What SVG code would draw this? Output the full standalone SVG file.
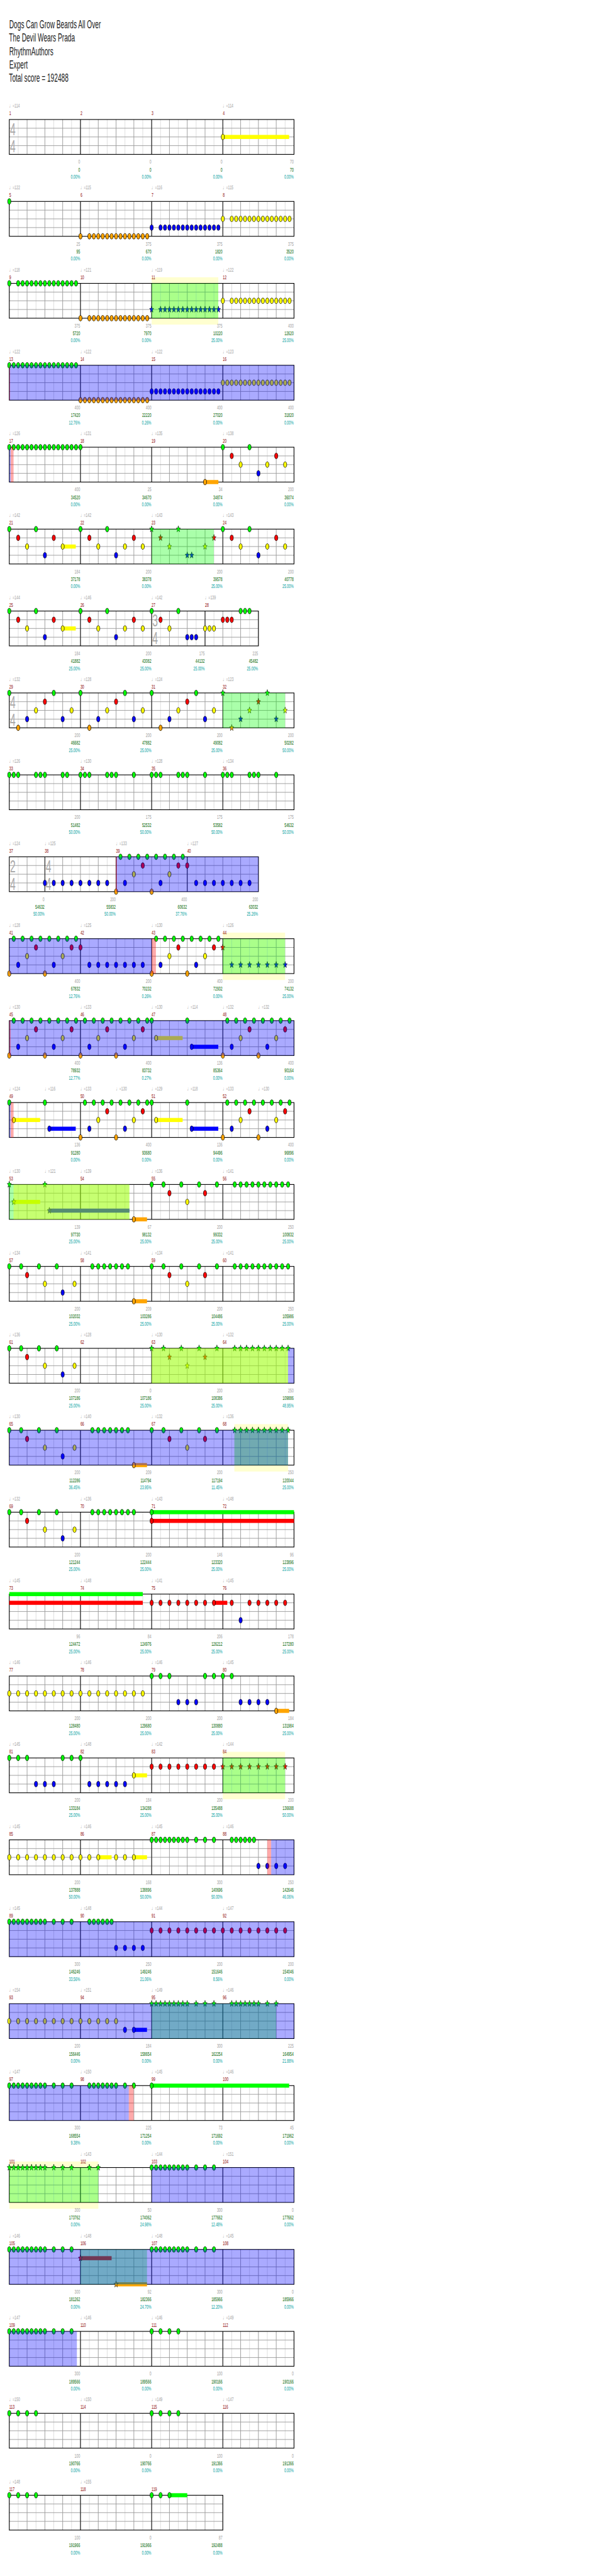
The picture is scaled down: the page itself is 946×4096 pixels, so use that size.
<svg xmlns="http://www.w3.org/2000/svg" width="946" height="4096" viewBox="0 0 946 4096">
<defs>
<style>
.tx{font-family:"Liberation Sans","DejaVu Sans",sans-serif;font-size:5.7px}
.ti{font-size:11px;fill:#1a1a1a}
.tp{fill:#a0a0a0;transform:translate(0px,-11.66px)}
.mn{fill:#8b0000;transform:translate(0px,-4.23px)}
.s1,.s2,.s3{text-anchor:end}
.s1{fill:#a0a0a0;transform:translate(0px,43.43px)}
.s2{fill:#006400;transform:translate(0px,51.03px)}
.s3{fill:#00a0a0;transform:translate(0px,58.11px)}
.ts{font-family:"Liberation Sans",sans-serif;font-size:17px;fill:#aaa}
.gl1{stroke:#dcdcdc;fill:none}
.gl2{stroke:#9a9a9a;fill:none}
.ml{stroke:#000;fill:none}
.bd{fill:none;stroke:#000;stroke-width:1.2}
.yb{fill:#ffffd0}
.og{fill:#0f0;fill-opacity:.333}
.oy{fill:#ff0;fill-opacity:.333}
.ob{fill:#00f;fill-opacity:.333}
.op{fill:#f00;fill-opacity:.333}
.uG{fill:#0f0}.uR{fill:#f00}.uY{fill:#ff0}.uB{fill:#00f}.uO{fill:#ffa500}
.G,.R,.Y,.B,.O,.SG,.SR,.SY,.SB,.SO{fill:none;stroke:none}
.G{marker-start:url(#mG);marker-mid:url(#mG);marker-end:url(#mG)}
.R{marker-start:url(#mR);marker-mid:url(#mR);marker-end:url(#mR)}
.Y{marker-start:url(#mY);marker-mid:url(#mY);marker-end:url(#mY)}
.B{marker-start:url(#mB);marker-mid:url(#mB);marker-end:url(#mB)}
.O{marker-start:url(#mO);marker-mid:url(#mO);marker-end:url(#mO)}
.SG{marker-start:url(#nG);marker-mid:url(#nG);marker-end:url(#nG)}
.SR{marker-start:url(#nR);marker-mid:url(#nR);marker-end:url(#nR)}
.SY{marker-start:url(#nY);marker-mid:url(#nY);marker-end:url(#nY)}
.SB{marker-start:url(#nB);marker-mid:url(#nB);marker-end:url(#nB)}
</style>
<ellipse id="el" rx="2.85" ry="4.8" stroke="#000" stroke-width=".8"/>
<path id="st" d="M0-5.8 1-2 3.8-1.8 1.62.76 2.35 4.7 0 2.47-2.35 4.7-1.62.76-3.8-1.8-1-2Z" stroke="#000" stroke-width=".6"/>
<use id="eG" href="#el" fill="#0f0"/><use id="eR" href="#el" fill="#f00"/><use id="eY" href="#el" fill="#ff0"/><use id="eB" href="#el" fill="#00f"/><use id="eO" href="#el" fill="#ffa500"/>
<use id="sG" href="#st" fill="#0f0"/><use id="sR" href="#st" fill="#f00"/><use id="sY" href="#st" fill="#ff0"/><use id="sB" href="#st" fill="#00f"/><use id="sO" href="#st" fill="#ffa500"/>
<marker id="mG" overflow="visible" markerUnits="userSpaceOnUse"><use href="#eG"/></marker>
<marker id="mR" overflow="visible" markerUnits="userSpaceOnUse"><use href="#eR"/></marker>
<marker id="mY" overflow="visible" markerUnits="userSpaceOnUse"><use href="#eY"/></marker>
<marker id="mB" overflow="visible" markerUnits="userSpaceOnUse"><use href="#eB"/></marker>
<marker id="mO" overflow="visible" markerUnits="userSpaceOnUse"><use href="#eO"/></marker>
<marker id="nG" overflow="visible" markerUnits="userSpaceOnUse"><use href="#sG"/></marker>
<marker id="nR" overflow="visible" markerUnits="userSpaceOnUse"><use href="#sR"/></marker>
<marker id="nY" overflow="visible" markerUnits="userSpaceOnUse"><use href="#sY"/></marker>
<marker id="nB" overflow="visible" markerUnits="userSpaceOnUse"><use href="#sB"/></marker>
<g id="grid">
<path class="gl1" d="M15.31 0v60M45.94 0v60M76.56 0v60M107.19 0v60M137.81 0v60M168.44 0v60M199.06 0v60M229.69 0v60M260.31 0v60M290.94 0v60M321.56 0v60M352.19 0v60M382.81 0v60M413.44 0v60M444.06 0v60M474.69 0v60"/>
<path class="gl2" d="M30.63 0v60M61.25 0v60M91.88 0v60M122.5 0v60M153.13 0v60M183.75 0v60M214.38 0v60M245 0v60M275.63 0v60M306.25 0v60M336.88 0v60M367.5 0v60M398.13 0v60M428.75 0v60M459.38 0v60M0 15h490M0 30h490M0 45h490"/>
</g>
<g id="stf"><use href="#grid"/><path class="ml" d="M122.5 0v60M245 0v60M367.5 0v60"/><rect class="bd" width="490" height="60"/></g>
<clipPath id="c7"><rect width="428.75" height="60"/></clipPath>
<clipPath id="c30"><rect width="367.5" height="60"/></clipPath>
</defs>
<rect width="946" height="4096" fill="#fff"/>
<g transform="scale(.923828)">
<g id="title" class="tx ti" transform="scale(1,1.75)"><text x="16" y="28">Dogs Can Grow Beards All Over</text><text x="15.5" y="41.14">The Devil Wears Prada</text><text x="16" y="54.29">RhythmAuthors</text><text x="16" y="67.43">Expert</text><text x="15.5" y="80.57">Total score = 192488</text></g>

<g id="row1">
<g transform="translate(16,205.7)"><use href="#stf"/>
<g class="ts" transform="scale(1,1.75)"><text x="1.3" y="15.2">4</text><text x="1.3" y="32.35">4</text></g>
<g transform="scale(.95703,1)"><rect class="uY" x="384" y="26.5" width="119.2" height="7"/><use href="#eY" x="384" y="30"/></g>
</g>
<g class="tx" transform="translate(0,205.7) scale(1,1.75)">
<g class="tp"><text x="16">♩=114</text><text x="383.5">♩=114</text></g>
<g class="mn"><text x="16">1</text><text x="138.5">2</text><text x="261">3</text><text x="383.5">4</text></g>
<g class="s1"><text x="137.9">0</text><text x="260.4">0</text><text x="382.9">0</text><text x="505.4">70</text></g>
<g class="s2"><text x="137.9">0</text><text x="260.4">0</text><text x="382.9">0</text><text x="505.4">70</text></g>
<g class="s3"><text x="137.9">0.00%</text><text x="260.4">0.00%</text><text x="382.9">0.00%</text><text x="505.4">0.00%</text></g>
</g></g>

<g id="row2">
<g transform="translate(16,346.7)"><use href="#stf"/>
<g transform="scale(.95703,1)"><use href="#eG"/>
<path class="O" d="M128 60h16h8h8h8h8 h8h8h8h8h8 h8h8h8h8"/>
<path class="B" d="M256 45h16h8h8h8h8 h8h8h8h8h8 h8h8h8h8"/>
<path class="Y" d="M384 30h16h8h8h8h8 h8h8h8h8h8 h8h8h8h8"/>
</g></g>
<g class="tx" transform="translate(0,346.7) scale(1,1.75)">
<g class="tp"><text x="16">♩=122</text><text x="138.5">♩=115</text><text x="261">♩=116</text><text x="383.5">♩=115</text></g>
<g class="mn"><text x="16">5</text><text x="138.5">6</text><text x="261">7</text><text x="383.5">8</text></g>
<g class="s1"><text x="137.9">25</text><text x="260.4">375</text><text x="382.9">375</text><text x="505.4">375</text></g>
<g class="s2"><text x="137.9">95</text><text x="260.4">670</text><text x="382.9">1820</text><text x="505.4">3520</text></g>
<g class="s3"><text x="137.9">0.00%</text><text x="260.4">0.00%</text><text x="382.9">0.00%</text><text x="505.4">0.00%</text></g>
</g></g>

<g id="row3">
<g transform="translate(16,487.7)"><rect class="yb" x="245" y="-10.5" width="114.67" height="81.5"/><use href="#stf"/>
<g transform="scale(.95703,1)">
<path class="G" d="M0 0h16h8h8h8h8 h8h8h8h8h8 h8h8h8h8"/>
<path class="O" d="M128 60h16h8h8h8h8 h8h8h8h8h8 h8h8h8h8"/>
<path class="SB" d="M256 45h16h8h8h8h8 h8h8h8h8h8 h8h8h8h8"/>
<path class="Y" d="M384 30h16h8h8h8h8 h8h8h8h8h8 h8h8h8h8"/>
</g><rect class="og" x="245" width="114.67" height="60"/></g>
<g class="tx" transform="translate(0,487.7) scale(1,1.75)">
<g class="tp"><text x="16">♩=118</text><text x="138.5">♩=121</text><text x="261">♩=119</text><text x="383.5">♩=122</text></g>
<g class="mn"><text x="16">9</text><text x="138.5">10</text><text x="261">11</text><text x="383.5">12</text></g>
<g class="s1"><text x="137.9">375</text><text x="260.4">375</text><text x="382.9">375</text><text x="505.4">400</text></g>
<g class="s2"><text x="137.9">5720</text><text x="260.4">7970</text><text x="382.9">10220</text><text x="505.4">12620</text></g>
<g class="s3"><text x="137.9">0.00%</text><text x="260.4">0.00%</text><text x="382.9">25.00%</text><text x="505.4">25.00%</text></g>
</g></g>

<g id="row4">
<g transform="translate(16,628.7)"><use href="#stf"/>
<g transform="scale(.95703,1)">
<path class="G" d="M0 0h8h8h8h8h8 h8h8h8h8h8 h8h8h8h8h8"/>
<path class="O" d="M128 60h8h8h8h8h8 h8h8h8h8h8 h8h8h8h8h8"/>
<path class="B" d="M256 45h8h8h8h8h8 h8h8h8h8h8 h8h8h8h8h8"/>
<path class="Y" d="M384 30h8h8h8h8h8 h8h8h8h8h8 h8h8h8h8h8"/>
</g><rect class="ob" width="490" height="60"/><rect class="op" width="1.33" height="60"/></g>
<g class="tx" transform="translate(0,628.7) scale(1,1.75)">
<g class="tp"><text x="16">♩=122</text><text x="138.5">♩=122</text><text x="261">♩=122</text><text x="383.5">♩=123</text></g>
<g class="mn"><text x="16">13</text><text x="138.5">14</text><text x="261">15</text><text x="383.5">16</text></g>
<g class="s1"><text x="137.9">400</text><text x="260.4">400</text><text x="382.9">400</text><text x="505.4">400</text></g>
<g class="s2"><text x="137.9">17420</text><text x="260.4">22220</text><text x="382.9">27020</text><text x="505.4">31820</text></g>
<g class="s3"><text x="137.9">12.76%</text><text x="260.4">0.26%</text><text x="382.9">0.00%</text><text x="505.4">0.00%</text></g>
</g></g>

<g id="row5">
<g transform="translate(16,769.7)"><use href="#stf"/>
<g transform="scale(.95703,1)"><rect class="uO" x="352" y="56.5" width="24" height="7"/>
<path class="G" d="M0 0h8h8h8h8h8 h8h8h8h8h8 h8h8h8h8h8 h8h256h48"/>
<path class="R" d="M400 15h80"/><path class="Y" d="M416 30h48h32"/><use href="#eB" x="448" y="45"/><use href="#eO" x="352" y="60"/>
</g><rect class="ob" width="2.33" height="60"/><rect class="op" x="2.33" width="5" height="60"/></g>
<g class="tx" transform="translate(0,769.7) scale(1,1.75)">
<g class="tp"><text x="16">♩=126</text><text x="138.5">♩=131</text><text x="261">♩=135</text><text x="383.5">♩=138</text></g>
<g class="mn"><text x="16">17</text><text x="138.5">18</text><text x="261">19</text><text x="383.5">20</text></g>
<g class="s1"><text x="137.9">400</text><text x="260.4">25</text><text x="382.9">34</text><text x="505.4">200</text></g>
<g class="s2"><text x="137.9">34520</text><text x="260.4">34670</text><text x="382.9">34874</text><text x="505.4">36074</text></g>
<g class="s3"><text x="137.9">0.00%</text><text x="260.4">0.00%</text><text x="382.9">0.00%</text><text x="505.4">0.00%</text></g>
</g></g>

<g id="row6">
<g transform="translate(16,910.7)"><use href="#stf"/>
<g transform="scale(.95703,1)"><rect class="uY" x="96" y="26.5" width="23.5" height="7"/>
<path class="G" d="M0 0h48h80h48h208h48"/><path class="R" d="M16 15h64h64h80h176h80"/><path class="Y" d="M32 30h64h64h48h32h176h48h32"/><path class="B" d="M64 45h128h256"/>
<path class="SG" d="M256 0h48"/><path class="SR" d="M272 15h96"/><path class="SY" d="M288 30h64"/><path class="SB" d="M320 45h8"/>
</g><rect class="og" x="245" width="107" height="60"/></g>
<g class="tx" transform="translate(0,910.7) scale(1,1.75)">
<g class="tp"><text x="16">♩=142</text><text x="138.5">♩=142</text><text x="261">♩=143</text><text x="383.5">♩=143</text></g>
<g class="mn"><text x="16">21</text><text x="138.5">22</text><text x="261">23</text><text x="383.5">24</text></g>
<g class="s1"><text x="137.9">184</text><text x="260.4">200</text><text x="382.9">200</text><text x="505.4">200</text></g>
<g class="s2"><text x="137.9">37178</text><text x="260.4">38378</text><text x="382.9">39578</text><text x="505.4">40778</text></g>
<g class="s3"><text x="137.9">0.00%</text><text x="260.4">0.00%</text><text x="382.9">25.00%</text><text x="505.4">25.00%</text></g>
</g></g>

<g id="row7">
<g transform="translate(16,1051.7)"><use href="#grid" clip-path="url(#c7)"/><path class="ml" d="M122.5 0v60M245 0v60M336.88 0v60"/><rect class="bd" width="428.75" height="60"/>
<g class="ts" transform="scale(1,1.75)"><text x="246.3" y="15.2">3</text><text x="246.3" y="32.35">4</text></g>
<g transform="scale(.95703,1)"><rect class="uY" x="96" y="26.5" width="23.5" height="7"/>
<path class="G" d="M0 0h48h80h48h80h48h112h8h8"/><path class="R" d="M16 15h64h64h80h48h112h8h8"/><path class="Y" d="M32 30h64h64h48h32h48h64h8h8"/><path class="B" d="M64 45h128h128h8h8"/>
</g></g>
<g class="tx" transform="translate(0,1051.7) scale(1,1.75)">
<g class="tp"><text x="16">♩=144</text><text x="138.5">♩=146</text><text x="261">♩=142</text><text x="353">♩=139</text></g>
<g class="mn"><text x="16">25</text><text x="138.5">26</text><text x="261">27</text><text x="353">28</text></g>
<g class="s1"><text x="137.9">184</text><text x="260.4">200</text><text x="352.3">175</text><text x="444.1">225</text></g>
<g class="s2"><text x="137.9">41882</text><text x="260.4">43082</text><text x="352.3">44132</text><text x="444.1">45482</text></g>
<g class="s3"><text x="137.9">25.00%</text><text x="260.4">25.00%</text><text x="352.3">25.00%</text><text x="444.1">25.00%</text></g>
</g></g>

<g id="row8">
<g transform="translate(16,1192.7)"><use href="#stf"/>
<g class="ts" transform="scale(1,1.75)"><text x="1.3" y="15.2">4</text><text x="1.3" y="32.35">4</text></g>
<g transform="scale(.95703,1)">
<path class="G" d="M0 0h80h48h80h48h80"/><path class="R" d="M64 15h128h128"/><path class="Y" d="M48 30h64h64h64h64h64"/><path class="B" d="M32 45h64h64h64h64h64"/><path class="O" d="M16 60h128h128"/>
<path class="SG" d="M384 0h80"/><use href="#sR" x="448" y="15"/><path class="SY" d="M432 30h64"/><path class="SB" d="M416 45h64"/><use href="#sO" x="400" y="60"/>
</g><rect class="og" x="367.33" width="107.33" height="60"/></g>
<g class="tx" transform="translate(0,1192.7) scale(1,1.75)">
<g class="tp"><text x="16">♩=132</text><text x="138.5">♩=128</text><text x="261">♩=124</text><text x="383.5">♩=123</text></g>
<g class="mn"><text x="16">29</text><text x="138.5">30</text><text x="261">31</text><text x="383.5">32</text></g>
<g class="s1"><text x="137.9">200</text><text x="260.4">200</text><text x="382.9">200</text><text x="505.4">200</text></g>
<g class="s2"><text x="137.9">46682</text><text x="260.4">47882</text><text x="382.9">49082</text><text x="505.4">50282</text></g>
<g class="s3"><text x="137.9">25.00%</text><text x="260.4">25.00%</text><text x="382.9">25.00%</text><text x="505.4">50.00%</text></g>
</g></g>

<g id="row9">
<g transform="translate(16,1333.7)"><use href="#stf"/>
<g transform="scale(.95703,1)">
<path class="G" d="M0 0h8h8h32h8h8h32h8h24h8h8h32h8h8h32h32h8h8h32h8h8h32h32h8h8h32h8h8h32"/>
</g></g>
<g class="tx" transform="translate(0,1333.7) scale(1,1.75)">
<g class="tp"><text x="16">♩=126</text><text x="138.5">♩=130</text><text x="261">♩=128</text><text x="383.5">♩=134</text></g>
<g class="mn"><text x="16">33</text><text x="138.5">34</text><text x="261">35</text><text x="383.5">36</text></g>
<g class="s1"><text x="137.9">200</text><text x="260.4">175</text><text x="382.9">175</text><text x="505.4">175</text></g>
<g class="s2"><text x="137.9">51482</text><text x="260.4">52532</text><text x="382.9">53582</text><text x="505.4">54632</text></g>
<g class="s3"><text x="137.9">50.00%</text><text x="260.4">50.00%</text><text x="382.9">50.00%</text><text x="505.4">50.00%</text></g>
</g></g>

<g id="row10">
<g transform="translate(16,1474.7)"><use href="#grid" clip-path="url(#c7)"/><path class="ml" d="M61.25 0v60M183.75 0v60M306.25 0v60"/><rect class="bd" width="428.75" height="60"/>
<g class="ts" transform="scale(1,1.75)"><text x="1.3" y="15.2">2</text><text x="1.3" y="32.35">4</text><text x="62.7" y="15.2">4</text><text x="62.7" y="32.35">4</text></g>
<g transform="scale(.95703,1)">
<path class="G" d="M200 0h16h16h16h16h16h16h16"/><path class="R" d="M240 15h64h16"/><path class="Y" d="M224 30h64"/>
<path class="B" d="M64 45h16h16h16h16h16h16h16h32h64h64h16h16h16h16h16h16"/><path class="O" d="M192 60h64"/>
</g><rect class="ob" x="184" width="244.75" height="60"/><rect class="op" x="183.3" width="2" height="60"/></g>
<g class="tx" transform="translate(0,1474.7) scale(1,1.75)">
<g class="tp"><text x="16">♩=124</text><text x="77.25">♩=125</text><text x="199.75">♩=133</text><text x="322.25">♩=127</text></g>
<g class="mn"><text x="16">37</text><text x="77.25">38</text><text x="199.75">39</text><text x="322.25">40</text></g>
<g class="s1"><text x="76.6">0</text><text x="199.1">200</text><text x="321.6">400</text><text x="444.1">200</text></g>
<g class="s2"><text x="76.6">54632</text><text x="199.1">55832</text><text x="321.6">60632</text><text x="444.1">63032</text></g>
<g class="s3"><text x="76.6">50.00%</text><text x="199.1">50.00%</text><text x="321.6">37.76%</text><text x="444.1">25.26%</text></g>
</g></g>

<g id="row11">
<g transform="translate(16,1615.7)"><rect class="yb" x="367.33" y="-10.5" width="107.33" height="81.5"/><use href="#stf"/>
<g transform="scale(.95703,1)">
<path class="G" d="M8 0h16h16h16h16h16h16h16h144h16h16h16h16h16h16h16"/><path class="R" d="M48 15h64h16h176h64"/><use href="#sR" x="384" y="15"/>
<path class="Y" d="M32 30h64h192h64"/><path class="B" d="M16 45h64h64h16h16h16h16h16h16h32h64"/><path class="SB" d="M400 45h16h16h16h16h16h16"/><path class="O" d="M0 60h64h192h64"/>
</g><rect class="og" x="367.33" width="107.33" height="60"/><rect class="ob" width="245" height="60"/><rect class="op" x="245" width="7.33" height="60"/></g>
<g class="tx" transform="translate(0,1615.7) scale(1,1.75)">
<g class="tp"><text x="16">♩=128</text><text x="138.5">♩=125</text><text x="261">♩=130</text><text x="383.5">♩=126</text></g>
<g class="mn"><text x="16">41</text><text x="138.5">42</text><text x="261">43</text><text x="383.5">44</text></g>
<g class="s1"><text x="137.9">400</text><text x="260.4">200</text><text x="382.9">400</text><text x="505.4">200</text></g>
<g class="s2"><text x="137.9">67832</text><text x="260.4">70232</text><text x="382.9">72932</text><text x="505.4">74132</text></g>
<g class="s3"><text x="137.9">12.76%</text><text x="260.4">0.26%</text><text x="382.9">0.00%</text><text x="505.4">25.00%</text></g>
</g></g>

<g id="row12">
<g transform="translate(16,1756.7)"><use href="#stf"/>
<g transform="scale(.95703,1)"><rect class="uY" x="264" y="26.5" width="47.7" height="7"/><rect class="uB" x="328" y="41.5" width="47.8" height="7"/>
<path class="G" d="M8 0h16h16h16h16h16 h16h16h16h16h16 h16h16h16h16h16 h8h64h72h16h16h16h16h16h16h16"/><path class="R" d="M48 15h64h64h64h192h64"/>
<path class="Y" d="M32 30h64h64h64h40h152h64"/><path class="B" d="M16 45h64h64h64h120h72h64"/><path class="O" d="M0 60h64h64h64h192h64"/>
</g><rect class="ob" width="490" height="60"/><rect class="op" width="2.33" height="60"/></g>
<g class="tx" transform="translate(0,1756.7) scale(1,1.75)">
<g class="tp"><text x="16">♩=130</text><text x="138.5">♩=133</text><text x="261">♩=130</text><text x="322.25">♩=114</text><text x="383.5">♩=132</text><text x="444.75">♩=132</text></g>
<g class="mn"><text x="16">45</text><text x="138.5">46</text><text x="261">47</text><text x="383.5">48</text></g>
<g class="s1"><text x="137.9">400</text><text x="260.4">400</text><text x="382.9">136</text><text x="505.4">400</text></g>
<g class="s2"><text x="137.9">78932</text><text x="260.4">83732</text><text x="382.9">85364</text><text x="505.4">90164</text></g>
<g class="s3"><text x="137.9">12.77%</text><text x="260.4">0.27%</text><text x="382.9">0.00%</text><text x="505.4">0.00%</text></g>
</g></g>

<g id="row13">
<g transform="translate(16,1897.7)"><use href="#stf"/>
<g transform="scale(.95703,1)"><rect class="uY" x="8" y="26.5" width="47.4" height="7"/><rect class="uY" x="264" y="26.5" width="47.7" height="7"/><rect class="uB" x="72" y="41.5" width="47.5" height="7"/><rect class="uB" x="328" y="41.5" width="47.8" height="7"/>
<path class="G" d="M0 0h64h72h16h16h16h16h16h16h16h8h64h72h16h16h16h16h16h16h16"/><path class="R" d="M176 15h64h192h64"/>
<path class="Y" d="M8 30h152h64h40h152h64"/><path class="B" d="M72 45h72h64h120h72h64"/><path class="O" d="M128 60h64h192h64"/>
</g><rect class="ob" width="2.33" height="60"/><rect class="op" x="2.33" width="5" height="60"/></g>
<g class="tx" transform="translate(0,1897.7) scale(1,1.75)">
<g class="tp"><text x="16">♩=124</text><text x="77.25">♩=116</text><text x="138.5">♩=133</text><text x="199.75">♩=130</text><text x="261">♩=129</text><text x="322.25">♩=118</text><text x="383.5">♩=133</text><text x="444.75">♩=130</text></g>
<g class="mn"><text x="16">49</text><text x="138.5">50</text><text x="261">51</text><text x="383.5">52</text></g>
<g class="s1"><text x="137.9">136</text><text x="260.4">400</text><text x="382.9">136</text><text x="505.4">400</text></g>
<g class="s2"><text x="137.9">91280</text><text x="260.4">93680</text><text x="382.9">94496</text><text x="505.4">96896</text></g>
<g class="s3"><text x="137.9">0.00%</text><text x="260.4">0.00%</text><text x="382.9">0.00%</text><text x="505.4">0.00%</text></g>
</g></g>

<g id="row14">
<g transform="translate(16,2038.7)"><use href="#stf"/>
<g transform="scale(.95703,1)"><rect class="uY" x="8" y="26.5" width="47.4" height="7"/><rect class="uB" x="72" y="41.5" width="144" height="7"/><rect class="uO" x="224" y="56.5" width="23.6" height="7"/>
<path class="SG" d="M0 0h64"/><use href="#sY" x="8" y="30"/><use href="#sB" x="72" y="45"/><use href="#eO" x="224" y="60"/>
<path class="G" d="M256 0h21.33h32h32h32h32h10.67h10.67h10.67h10.67h10.67h10.67h10.67h10.67h10.67"/><path class="R" d="M288 15h64"/><use href="#eY" x="320" y="30"/>
</g><rect class="og" width="206.67" height="60"/><rect class="oy" x="7.33" width="199.33" height="60"/></g>
<g class="tx" transform="translate(0,2038.7) scale(1,1.75)">
<g class="tp"><text x="16">♩=130</text><text x="77.25">♩=121</text><text x="138.5">♩=139</text><text x="261">♩=136</text><text x="383.5">♩=141</text></g>
<g class="mn"><text x="16">53</text><text x="138.5">54</text><text x="261">55</text><text x="383.5">56</text></g>
<g class="s1"><text x="137.9">139</text><text x="260.4">67</text><text x="382.9">200</text><text x="505.4">250</text></g>
<g class="s2"><text x="137.9">97730</text><text x="260.4">98132</text><text x="382.9">99332</text><text x="505.4">100832</text></g>
<g class="s3"><text x="137.9">25.00%</text><text x="260.4">25.00%</text><text x="382.9">25.00%</text><text x="505.4">25.00%</text></g>
</g></g>

<g id="row15">
<g transform="translate(16,2179.7)"><use href="#stf"/>
<g transform="scale(.95703,1)"><rect class="uO" x="224" y="56.5" width="23.6" height="7"/>
<path class="G" d="M0 0h21.33h32h32h64h10.67h10.67h10.67h10.67h10.67h10.67h42.67h21.33h32h32h32h32h10.67h10.67h10.67h10.67h10.67h10.67h10.67h10.67h10.67"/>
<path class="R" d="M32 15h256h64"/><path class="Y" d="M64 30h53.33h202.67"/><use href="#eB" x="96" y="45"/><use href="#eO" x="224" y="60"/>
</g></g>
<g class="tx" transform="translate(0,2179.7) scale(1,1.75)">
<g class="tp"><text x="16">♩=134</text><text x="138.5">♩=141</text><text x="261">♩=134</text><text x="383.5">♩=141</text></g>
<g class="mn"><text x="16">57</text><text x="138.5">58</text><text x="261">59</text><text x="383.5">60</text></g>
<g class="s1"><text x="137.9">200</text><text x="260.4">209</text><text x="382.9">200</text><text x="505.4">250</text></g>
<g class="s2"><text x="137.9">102032</text><text x="260.4">103286</text><text x="382.9">104486</text><text x="505.4">105986</text></g>
<g class="s3"><text x="137.9">25.00%</text><text x="260.4">25.00%</text><text x="382.9">25.00%</text><text x="505.4">25.00%</text></g>
</g></g>

<g id="row16">
<g transform="translate(16,2320.7)"><use href="#stf"/>
<g transform="scale(.95703,1)">
<path class="G" d="M0 0h21.33h32h32"/><use href="#eR" x="32" y="15"/><path class="Y" d="M64 30h53.33"/><use href="#eB" x="96" y="45"/>
<path class="SG" d="M256 0h21.33h32h32h32h32h10.67h10.67h10.67h10.67h10.67h10.67h10.67h10.67h10.67"/><path class="SR" d="M288 15h64"/><use href="#sY" x="320" y="30"/>
</g><rect class="og" x="245" width="234.67" height="60"/><rect class="oy" x="245" width="234.67" height="60"/><rect class="ob" x="479.67" width="10.33" height="60"/></g>
<g class="tx" transform="translate(0,2320.7) scale(1,1.75)">
<g class="tp"><text x="16">♩=136</text><text x="138.5">♩=128</text><text x="261">♩=130</text><text x="383.5">♩=132</text></g>
<g class="mn"><text x="16">61</text><text x="138.5">62</text><text x="261">63</text><text x="383.5">64</text></g>
<g class="s1"><text x="137.9">200</text><text x="260.4">0</text><text x="382.9">200</text><text x="505.4">250</text></g>
<g class="s2"><text x="137.9">107186</text><text x="260.4">107186</text><text x="382.9">108386</text><text x="505.4">109886</text></g>
<g class="s3"><text x="137.9">25.00%</text><text x="260.4">25.00%</text><text x="382.9">25.00%</text><text x="505.4">48.95%</text></g>
</g></g>

<g id="row17">
<g transform="translate(16,2461.7)"><rect class="yb" x="387.33" y="-10.5" width="92.33" height="81.5"/><use href="#stf"/>
<g transform="scale(.95703,1)"><rect class="uO" x="224" y="56.5" width="23.6" height="7"/>
<path class="G" d="M0 0h21.33h32h32h64h10.67h10.67h10.67h10.67h10.67h10.67h42.67h21.33h32h32h32"/>
<path class="R" d="M32 15h256h64"/><path class="Y" d="M64 30h53.33h202.67"/><use href="#eB" x="96" y="45"/><use href="#eO" x="224" y="60"/>
<path class="SG" d="M405.33 0h10.67h10.67h10.67h10.67h10.67h10.67h10.67h10.67h10.67"/>
</g><rect class="og" x="387.33" width="92.33" height="60"/><rect class="ob" width="479.67" height="60"/></g>
<g class="tx" transform="translate(0,2461.7) scale(1,1.75)">
<g class="tp"><text x="16">♩=130</text><text x="138.5">♩=140</text><text x="261">♩=132</text><text x="383.5">♩=136</text></g>
<g class="mn"><text x="16">65</text><text x="138.5">66</text><text x="261">67</text><text x="383.5">68</text></g>
<g class="s1"><text x="137.9">200</text><text x="260.4">209</text><text x="382.9">200</text><text x="505.4">250</text></g>
<g class="s2"><text x="137.9">112286</text><text x="260.4">114794</text><text x="382.9">117194</text><text x="505.4">120044</text></g>
<g class="s3"><text x="137.9">36.45%</text><text x="260.4">23.95%</text><text x="382.9">11.45%</text><text x="505.4">25.00%</text></g>
</g></g>

<g id="row18">
<g transform="translate(16,2602.7)"><use href="#stf"/>
<g transform="scale(.95703,1)"><rect class="uG" x="256" y="-3.5" width="256" height="7"/><rect class="uR" x="256" y="11.5" width="256" height="7"/>
<path class="G" d="M0 0h21.33h32h32h64h10.67h10.67h10.67h10.67h10.67h10.67h10.67h32"/>
<path class="R" d="M32 15h224"/><path class="Y" d="M64 30h53.33"/><use href="#eB" x="96" y="45"/>
</g></g>
<g class="tx" transform="translate(0,2602.7) scale(1,1.75)">
<g class="tp"><text x="16">♩=132</text><text x="138.5">♩=136</text><text x="261">♩=143</text><text x="383.5">♩=148</text></g>
<g class="mn"><text x="16">69</text><text x="138.5">70</text><text x="261">71</text><text x="383.5">72</text></g>
<g class="s1"><text x="137.9">200</text><text x="260.4">200</text><text x="382.9">146</text><text x="505.4">96</text></g>
<g class="s2"><text x="137.9">121244</text><text x="260.4">122444</text><text x="382.9">123320</text><text x="505.4">123896</text></g>
<g class="s3"><text x="137.9">25.00%</text><text x="260.4">25.00%</text><text x="382.9">25.00%</text><text x="505.4">25.00%</text></g>
</g></g>

<g id="row19">
<g transform="translate(16,2743.7)"><use href="#stf"/>
<g transform="scale(.95703,1)"><rect class="uG" y="-3.5" width="240" height="7"/><rect class="uR" y="11.5" width="240" height="7"/><rect class="uR" x="368" y="11.5" width="24" height="7"/>
<path class="R" d="M256 15h16h16h16h16h16h16h16h32h32h16h16h16h16"/><use href="#eB" x="416" y="45"/>
</g></g>
<g class="tx" transform="translate(0,2743.7) scale(1,1.75)">
<g class="tp"><text x="16">♩=145</text><text x="138.5">♩=148</text><text x="261">♩=141</text><text x="383.5">♩=145</text></g>
<g class="mn"><text x="16">73</text><text x="138.5">74</text><text x="261">75</text><text x="383.5">76</text></g>
<g class="s1"><text x="137.9">96</text><text x="260.4">84</text><text x="382.9">206</text><text x="505.4">178</text></g>
<g class="s2"><text x="137.9">124472</text><text x="260.4">124976</text><text x="382.9">126212</text><text x="505.4">127280</text></g>
<g class="s3"><text x="137.9">25.00%</text><text x="260.4">25.00%</text><text x="382.9">25.00%</text><text x="505.4">25.00%</text></g>
</g></g>

<g id="row20">
<g transform="translate(16,2884.7)"><use href="#stf"/>
<g transform="scale(.95703,1)"><rect class="uO" x="480" y="56.5" width="23.2" height="7"/>
<path class="Y" d="M0 30h16h16h16h16h16 h16h16h16h16h16 h16h16h16h16h16"/><path class="G" d="M256 0h16h16h64h16h16h16"/><path class="B" d="M304 45h16h16h80h16h16h16"/><use href="#eO" x="480" y="60"/>
</g></g>
<g class="tx" transform="translate(0,2884.7) scale(1,1.75)">
<g class="tp"><text x="16">♩=146</text><text x="138.5">♩=146</text><text x="261">♩=146</text><text x="383.5">♩=145</text></g>
<g class="mn"><text x="16">77</text><text x="138.5">78</text><text x="261">79</text><text x="383.5">80</text></g>
<g class="s1"><text x="137.9">200</text><text x="260.4">200</text><text x="382.9">200</text><text x="505.4">184</text></g>
<g class="s2"><text x="137.9">128480</text><text x="260.4">129680</text><text x="382.9">130880</text><text x="505.4">131984</text></g>
<g class="s3"><text x="137.9">25.00%</text><text x="260.4">25.00%</text><text x="382.9">25.00%</text><text x="505.4">25.00%</text></g>
</g></g>

<g id="row21">
<g transform="translate(16,3025.7)"><rect class="yb" x="367.33" y="-10.5" width="107.33" height="81.5"/><use href="#stf"/>
<g transform="scale(.95703,1)"><rect class="uY" x="224" y="26.5" width="23.6" height="7"/>
<path class="G" d="M0 0h16h16h64h16h16"/><path class="B" d="M48 45h16h16h64h16h16h16h16"/><use href="#eY" x="224" y="30"/>
<path class="R" d="M256 15h16h16h16h16h16h16h16"/><path class="SR" d="M384 15h16h16h16h16h16h16h16"/>
</g><rect class="og" x="367.33" width="107.33" height="60"/></g>
<g class="tx" transform="translate(0,3025.7) scale(1,1.75)">
<g class="tp"><text x="16">♩=145</text><text x="138.5">♩=148</text><text x="261">♩=142</text><text x="383.5">♩=144</text></g>
<g class="mn"><text x="16">81</text><text x="138.5">82</text><text x="261">83</text><text x="383.5">84</text></g>
<g class="s1"><text x="137.9">200</text><text x="260.4">184</text><text x="382.9">200</text><text x="505.4">200</text></g>
<g class="s2"><text x="137.9">133184</text><text x="260.4">134288</text><text x="382.9">135488</text><text x="505.4">136688</text></g>
<g class="s3"><text x="137.9">25.00%</text><text x="260.4">25.00%</text><text x="382.9">25.00%</text><text x="505.4">50.00%</text></g>
</g></g>

<g id="row22">
<g transform="translate(16,3166.7)"><use href="#stf"/>
<g transform="scale(.95703,1)"><rect class="uY" x="160" y="26.5" width="24" height="7"/><rect class="uY" x="224" y="26.5" width="23.6" height="7"/>
<path class="Y" d="M0 30h16h16h16h16h16 h16h16h16h16h16 h32h16h16"/><path class="G" d="M256 0h8h8h8h8h8h8h8h8h16h16h16h32h8h8h8h8h8"/><path class="B" d="M448 45h16h16h16"/>
</g><rect class="op" x="444" width="6.67" height="60"/><rect class="ob" x="450.67" width="39.33" height="60"/></g>
<g class="tx" transform="translate(0,3166.7) scale(1,1.75)">
<g class="tp"><text x="16">♩=145</text><text x="138.5">♩=146</text><text x="261">♩=145</text><text x="383.5">♩=146</text></g>
<g class="mn"><text x="16">85</text><text x="138.5">86</text><text x="261">87</text><text x="383.5">88</text></g>
<g class="s1"><text x="137.9">200</text><text x="260.4">168</text><text x="382.9">300</text><text x="505.4">250</text></g>
<g class="s2"><text x="137.9">137888</text><text x="260.4">138896</text><text x="382.9">140696</text><text x="505.4">142646</text></g>
<g class="s3"><text x="137.9">50.00%</text><text x="260.4">50.00%</text><text x="382.9">50.00%</text><text x="505.4">46.06%</text></g>
</g></g>

<g id="row23">
<g transform="translate(16,3307.7)"><use href="#stf"/>
<g transform="scale(.95703,1)">
<path class="G" d="M0 0h8h8h8h8h8h8h8h8h16h16h16h32h8h8h8h8h8"/><path class="R" d="M256 15h16h16h16h16h16 h16h16h16h16h16 h16h16h16h16h16"/><path class="B" d="M192 45h16h16h16"/>
</g><rect class="ob" width="490" height="60"/></g>
<g class="tx" transform="translate(0,3307.7) scale(1,1.75)">
<g class="tp"><text x="16">♩=145</text><text x="138.5">♩=148</text><text x="261">♩=144</text><text x="383.5">♩=147</text></g>
<g class="mn"><text x="16">89</text><text x="138.5">90</text><text x="261">91</text><text x="383.5">92</text></g>
<g class="s1"><text x="137.9">300</text><text x="260.4">250</text><text x="382.9">200</text><text x="505.4">200</text></g>
<g class="s2"><text x="137.9">146246</text><text x="260.4">149246</text><text x="382.9">151646</text><text x="505.4">154046</text></g>
<g class="s3"><text x="137.9">33.56%</text><text x="260.4">21.06%</text><text x="382.9">8.56%</text><text x="505.4">0.00%</text></g>
</g></g>

<g id="row24">
<g transform="translate(16,3448.7)"><use href="#stf"/>
<g transform="scale(.95703,1)"><rect class="uB" x="224" y="41.5" width="23.6" height="7"/>
<path class="Y" d="M0 30h16h16h16h16h16 h16h16h16h16h16 h16h16"/><path class="B" d="M208 45h16"/>
<path class="SG" d="M256 0h8h8h8h8h8h8h8h8h16h16h16h32h8h8h8h8h8h8h16h16"/>
</g><rect class="og" x="245" width="214.33" height="60"/><rect class="ob" width="490" height="60"/></g>
<g class="tx" transform="translate(0,3448.7) scale(1,1.75)">
<g class="tp"><text x="16">♩=154</text><text x="138.5">♩=151</text><text x="261">♩=149</text><text x="383.5">♩=146</text></g>
<g class="mn"><text x="16">93</text><text x="138.5">94</text><text x="261">95</text><text x="383.5">96</text></g>
<g class="s1"><text x="137.9">200</text><text x="260.4">184</text><text x="382.9">300</text><text x="505.4">225</text></g>
<g class="s2"><text x="137.9">156446</text><text x="260.4">158654</text><text x="382.9">162254</text><text x="505.4">164954</text></g>
<g class="s3"><text x="137.9">0.00%</text><text x="260.4">0.00%</text><text x="382.9">0.00%</text><text x="505.4">21.88%</text></g>
</g></g>

<g id="row25">
<g transform="translate(16,3589.7)"><use href="#stf"/>
<g transform="scale(.95703,1)"><rect class="uG" x="256" y="-3.5" width="247.2" height="7"/>
<path class="G" d="M0 0h8h8h8h8h8h8h8h8h16h16h16h32h8h8h8h8h8h8h16h16h32"/>
</g><rect class="ob" width="205.67" height="60"/><rect class="op" x="205.67" width="8.33" height="60"/></g>
<g class="tx" transform="translate(0,3589.7) scale(1,1.75)">
<g class="tp"><text x="16">♩=147</text><text x="138.5">♩=150</text><text x="261">♩=145</text><text x="383.5">♩=146</text></g>
<g class="mn"><text x="16">97</text><text x="138.5">98</text><text x="261">99</text><text x="383.5">100</text></g>
<g class="s1"><text x="137.9">300</text><text x="260.4">225</text><text x="382.9">73</text><text x="505.4">45</text></g>
<g class="s2"><text x="137.9">168554</text><text x="260.4">171254</text><text x="382.9">171692</text><text x="505.4">171962</text></g>
<g class="s3"><text x="137.9">9.38%</text><text x="260.4">0.00%</text><text x="382.9">0.00%</text><text x="505.4">0.00%</text></g>
</g></g>

<g id="row26">
<g transform="translate(16,3730.7)"><rect class="yb" y="-10.5" width="153.33" height="81.5"/><use href="#stf"/>
<g transform="scale(.95703,1)">
<path class="SG" d="M0 0h8h8h8h8h8h8h8h8h16h16h16h32h16"/><path class="G" d="M256 0h8h8h8h8h8h8h8h8h16h16h16"/>
</g><rect class="og" width="153.33" height="60"/><rect class="ob" x="245" width="245" height="60"/></g>
<g class="tx" transform="translate(0,3730.7) scale(1,1.75)">
<g class="tp"><text x="138.5">♩=143</text><text x="261">♩=144</text><text x="383.5">♩=151</text></g>
<g class="mn"><text x="16">101</text><text x="138.5">102</text><text x="261">103</text><text x="383.5">104</text></g>
<g class="s1"><text x="137.9">300</text><text x="260.4">50</text><text x="382.9">300</text><text x="505.4">0</text></g>
<g class="s2"><text x="137.9">173762</text><text x="260.4">174062</text><text x="382.9">177662</text><text x="505.4">177662</text></g>
<g class="s3"><text x="137.9">0.00%</text><text x="260.4">24.98%</text><text x="382.9">12.48%</text><text x="505.4">0.00%</text></g>
</g></g>

<g id="row27">
<g transform="translate(16,3871.7)"><use href="#stf"/>
<g transform="scale(.95703,1)"><rect class="uR" x="128" y="11.5" width="56" height="7"/><rect class="uO" x="192" y="56.5" width="55.6" height="7"/>
<path class="G" d="M0 0h8h8h8h8h8h8h8h8h16h16h16h144h8h8h8h8h8h8h8h8h16h16h16"/><use href="#sR" x="128" y="15"/><use href="#sO" x="192" y="60"/>
</g><rect class="og" x="122.33" width="114.67" height="60"/><rect class="ob" width="490" height="60"/></g>
<g class="tx" transform="translate(0,3871.7) scale(1,1.75)">
<g class="tp"><text x="16">♩=146</text><text x="138.5">♩=148</text><text x="261">♩=148</text><text x="383.5">♩=145</text></g>
<g class="mn"><text x="16">105</text><text x="138.5">106</text><text x="261">107</text><text x="383.5">108</text></g>
<g class="s1"><text x="137.9">300</text><text x="260.4">92</text><text x="382.9">300</text><text x="505.4">0</text></g>
<g class="s2"><text x="137.9">181262</text><text x="260.4">182366</text><text x="382.9">185966</text><text x="505.4">185966</text></g>
<g class="s3"><text x="137.9">0.00%</text><text x="260.4">24.70%</text><text x="382.9">12.20%</text><text x="505.4">0.00%</text></g>
</g></g>

<g id="row28">
<g transform="translate(16,4012.7)"><use href="#stf"/>
<g transform="scale(.95703,1)">
<path class="G" d="M0 0h8h8h8h8h8h8h8h8h16h16h16h144h16h16h16"/>
</g><rect class="ob" width="116.33" height="60"/></g>
<g class="tx" transform="translate(0,4012.7) scale(1,1.75)">
<g class="tp"><text x="16">♩=147</text><text x="138.5">♩=146</text><text x="261">♩=146</text><text x="383.5">♩=149</text></g>
<g class="mn"><text x="16">109</text><text x="138.5">110</text><text x="261">111</text><text x="383.5">112</text></g>
<g class="s1"><text x="137.9">300</text><text x="260.4">0</text><text x="382.9">100</text><text x="505.4">0</text></g>
<g class="s2"><text x="137.9">189566</text><text x="260.4">189566</text><text x="382.9">190166</text><text x="505.4">190166</text></g>
<g class="s3"><text x="137.9">0.00%</text><text x="260.4">0.00%</text><text x="382.9">0.00%</text><text x="505.4">0.00%</text></g>
</g></g>

<g id="row29">
<g transform="translate(16,4153.7)"><use href="#stf"/>
<g transform="scale(.95703,1)"><path class="G" d="M0 0h16h16h16h208h16h16h16"/></g></g>
<g class="tx" transform="translate(0,4153.7) scale(1,1.75)">
<g class="tp"><text x="16">♩=150</text><text x="138.5">♩=150</text><text x="261">♩=149</text><text x="383.5">♩=147</text></g>
<g class="mn"><text x="16">113</text><text x="138.5">114</text><text x="261">115</text><text x="383.5">116</text></g>
<g class="s1"><text x="137.9">100</text><text x="260.4">0</text><text x="382.9">100</text><text x="505.4">0</text></g>
<g class="s2"><text x="137.9">190766</text><text x="260.4">190766</text><text x="382.9">191366</text><text x="505.4">191366</text></g>
<g class="s3"><text x="137.9">0.00%</text><text x="260.4">0.00%</text><text x="382.9">0.00%</text><text x="505.4">0.00%</text></g>
</g></g>

<g id="row30">
<g transform="translate(16,4294.7)"><use href="#grid" clip-path="url(#c30)"/><path class="ml" d="M122.5 0v60M245 0v60"/><rect class="bd" width="367.5" height="60"/>
<g transform="scale(.95703,1)"><rect class="uG" x="288" y="-3.5" width="32" height="7"/><path class="G" d="M0 0h16h16h16h208h16h16"/></g></g>
<g class="tx" transform="translate(0,4294.7) scale(1,1.75)">
<g class="tp"><text x="16">♩=148</text><text x="138.5">♩=155</text></g>
<g class="mn"><text x="16">117</text><text x="138.5">118</text><text x="261">119</text></g>
<g class="s1"><text x="137.9">100</text><text x="260.4">0</text><text x="382.9">87</text></g>
<g class="s2"><text x="137.9">191966</text><text x="260.4">191966</text><text x="382.9">192488</text></g>
<g class="s3"><text x="137.9">0.00%</text><text x="260.4">0.00%</text><text x="382.9">0.00%</text></g>
</g></g>
</g>
</svg>
